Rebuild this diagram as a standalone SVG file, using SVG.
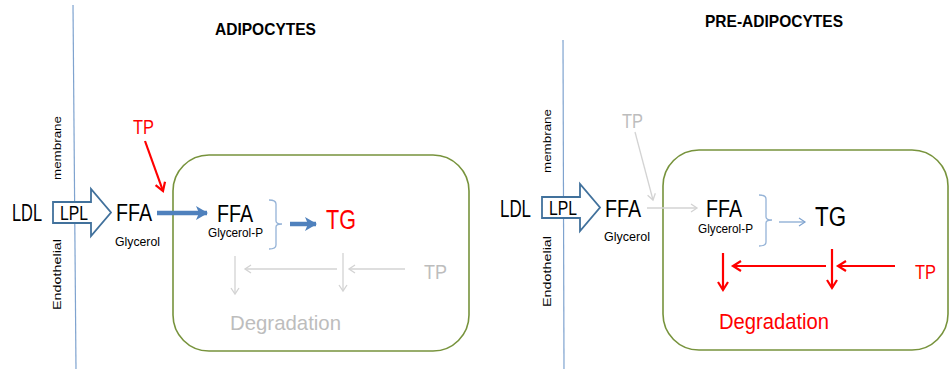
<svg xmlns="http://www.w3.org/2000/svg" width="951" height="369" viewBox="0 0 951 369">
<style>
text{font-family:"Liberation Sans","Noto Sans",sans-serif}
.bold{font-weight:bold}
.red{fill:#ff0000}
.gray{fill:#bdbdbd}
.cell{fill:none;stroke:#77933c;stroke-width:1.6}
.mem{stroke:#7fa3cf;stroke-width:1.2;fill:none}
.lpl{fill:#fff;stroke:#41719c;stroke-width:1.8}
.brace{fill:none;stroke:#95b3d7;stroke-width:1.3}
.thick{stroke:#4f81bd;stroke-width:4.5;fill:none}
.thinb{stroke:#7fa3cf;stroke-width:1.2;fill:none}
.rl{stroke:#ff0000;stroke-width:2.2;fill:none}
.gl{stroke:#d3d3d3;stroke-width:1.3;fill:none}
</style>
<defs>
<marker id="hb" markerUnits="userSpaceOnUse" markerWidth="16" markerHeight="16" viewBox="-12 -8 14 16" refX="0" refY="0" orient="auto">
<path d="M-11,-7 L1,0 L-11,7 L-8,0 Z" fill="#4f81bd"/>
</marker>
<marker id="hr" markerUnits="userSpaceOnUse" markerWidth="14" markerHeight="14" viewBox="-10 -7 12 14" refX="0" refY="0" orient="auto">
<path d="M-8,-5 L0,0 L-8,5" fill="none" stroke="#ff0000" stroke-width="2.2"/>
</marker>
<marker id="hg" markerUnits="userSpaceOnUse" markerWidth="12" markerHeight="12" viewBox="-8 -6 10 12" refX="0" refY="0" orient="auto">
<path d="M-6,-4 L0,0 L-6,4" fill="none" stroke="#d3d3d3" stroke-width="1.3"/>
</marker>
<marker id="hl" markerUnits="userSpaceOnUse" markerWidth="12" markerHeight="12" viewBox="-8 -6 10 12" refX="0" refY="0" orient="auto">
<path d="M-6,-4 L0,0 L-6,4" fill="none" stroke="#7fa3cf" stroke-width="1.2"/>
</marker>
</defs>

<!-- left panel: adipocytes -->
<g id="title-adipocytes"><text x="215" y="35" font-size="16.5" class="bold" textLength="101" lengthAdjust="spacingAndGlyphs">ADIPOCYTES</text></g>
<g id="membrane-left">
<path class="mem" d="M73,5 L76,369"/>
<text transform="translate(61,180) rotate(-90)" font-size="11.5" textLength="64" lengthAdjust="spacingAndGlyphs">membrane</text>
<text transform="translate(61,310) rotate(-90)" font-size="11.5" textLength="71" lengthAdjust="spacingAndGlyphs">Endothelial</text>
</g>
<g id="ldl-left"><text x="12" y="221" font-size="23" textLength="30" lengthAdjust="spacingAndGlyphs">LDL</text></g>
<g id="lpl-left">
<path class="lpl" d="M53,202 L91,202 L91,189 L111,212.5 L91,236 L91,223 L53,223 Z"/>
<text x="60" y="220" font-size="20" textLength="28" lengthAdjust="spacingAndGlyphs">LPL</text>
</g>
<g id="ffa-left-out">
<text x="116" y="221" font-size="24" textLength="36" lengthAdjust="spacingAndGlyphs">FFA</text>
<text x="115" y="246" font-size="13" textLength="45" lengthAdjust="spacingAndGlyphs">Glycerol</text>
</g>
<g id="tp-left-top"><text x="133" y="134" font-size="20" class="red" textLength="21" lengthAdjust="spacingAndGlyphs">TP</text></g>
<g id="cell-left"><rect class="cell" x="173" y="155" width="296" height="196" rx="36"/></g>
<g id="ffa-left-in">
<text x="217" y="222" font-size="24" textLength="36" lengthAdjust="spacingAndGlyphs">FFA</text>
<text x="208" y="237" font-size="12" textLength="55" lengthAdjust="spacingAndGlyphs">Glycerol-P</text>
</g>
<g id="brace-left"><path class="brace" d="M269,200 Q276,200 276,204 L276,221 Q276,224 282,224 Q276,224 276,227 L276,245 Q276,249 269,249"/></g>
<g id="tg-left"><text x="326" y="229" font-size="28" class="red" textLength="30" lengthAdjust="spacingAndGlyphs">TG</text></g>
<g id="tp-left-gray"><text x="424" y="279" font-size="20" class="gray" textLength="23" lengthAdjust="spacingAndGlyphs">TP</text></g>
<g id="degradation-left"><text x="230" y="330" font-size="21" class="gray" textLength="111" lengthAdjust="spacingAndGlyphs">Degradation</text></g>

<!-- right panel: pre-adipocytes -->
<g id="title-preadipocytes"><text x="705" y="27" font-size="16.5" class="bold" textLength="138" lengthAdjust="spacingAndGlyphs">PRE-ADIPOCYTES</text></g>
<g id="membrane-right">
<path class="mem" d="M563,40 L564,369"/>
<text transform="translate(551,173) rotate(-90)" font-size="11.5" textLength="64" lengthAdjust="spacingAndGlyphs">membrane</text>
<text transform="translate(551,307) rotate(-90)" font-size="11.5" textLength="71" lengthAdjust="spacingAndGlyphs">Endothelial</text>
</g>
<g id="ldl-right"><text x="500" y="217" font-size="23" textLength="31" lengthAdjust="spacingAndGlyphs">LDL</text></g>
<g id="lpl-right">
<path class="lpl" d="M542,197 L580,197 L580,184 L600,207.5 L580,231 L580,218 L542,218 Z"/>
<text x="549" y="215" font-size="20" textLength="28" lengthAdjust="spacingAndGlyphs">LPL</text>
</g>
<g id="ffa-right-out">
<text x="605" y="217" font-size="24" textLength="36" lengthAdjust="spacingAndGlyphs">FFA</text>
<text x="604" y="241" font-size="13" textLength="46" lengthAdjust="spacingAndGlyphs">Glycerol</text>
</g>
<g id="tp-right-top"><text x="622" y="128" font-size="20" class="gray" textLength="21" lengthAdjust="spacingAndGlyphs">TP</text></g>
<g id="cell-right"><rect class="cell" x="663" y="150" width="285" height="200" rx="36"/></g>
<g id="ffa-right-in">
<text x="706" y="217" font-size="24" textLength="36" lengthAdjust="spacingAndGlyphs">FFA</text>
<text x="698" y="233" font-size="12" textLength="55" lengthAdjust="spacingAndGlyphs">Glycerol-P</text>
</g>
<g id="brace-right"><path class="brace" d="M759,195 Q766,195 766,199 L766,217 Q766,220 772,220 Q766,220 766,223 L766,242 Q766,246 759,246"/></g>
<g id="tg-right"><text x="815" y="226" font-size="27" textLength="31" lengthAdjust="spacingAndGlyphs">TG</text></g>
<g id="tp-right-red"><text x="915" y="279" font-size="20" class="red" textLength="21" lengthAdjust="spacingAndGlyphs">TP</text></g>
<g id="degradation-right"><text x="719" y="329" font-size="22" class="red" textLength="110" lengthAdjust="spacingAndGlyphs">Degradation</text></g>

<g id="connectors">
<!-- left -->
<path class="rl" d="M145,141 L163,191" marker-end="url(#hr)"/>
<path class="thick" d="M157,213 L207,213" marker-end="url(#hb)"/>
<path class="thick" d="M290,224 L316,224" marker-end="url(#hb)"/>
<path class="gl" d="M235,256 L235,294" marker-end="url(#hg)"/>
<path class="gl" d="M337,269 L245,269" marker-end="url(#hg)"/>
<path class="gl" d="M343,253 L343,291" marker-end="url(#hg)"/>
<path class="gl" d="M405,269 L349,269" marker-end="url(#hg)"/>
<!-- right -->
<path class="gl" d="M635,132 L653,200" marker-end="url(#hg)"/>
<path class="gl" d="M647,208 L697,208" marker-end="url(#hg)"/>
<path class="thinb" d="M779,222 L805,222" marker-end="url(#hl)"/>
<path class="rl" d="M723,253 L723,290" marker-end="url(#hr)"/>
<path class="rl" d="M826,266 L733,266" marker-end="url(#hr)"/>
<path class="rl" d="M832,249 L832,288" marker-end="url(#hr)"/>
<path class="rl" d="M895,266 L838,266" marker-end="url(#hr)"/>
</g>
</svg>
